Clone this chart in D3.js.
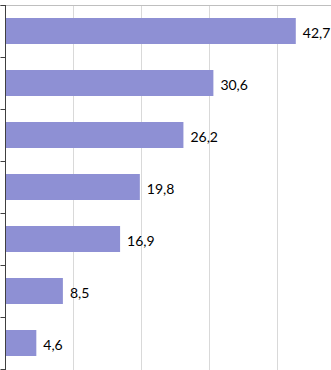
<!DOCTYPE html>
<html>
<head>
<meta charset="utf-8">
<script src="https://cdn.jsdelivr.net/npm/d3@7"></script>
<style>
  html, body { margin: 0; padding: 0; background: #fff; }
  svg { display: block; }
</style>
</head>
<body>
<div id="chart"></div>
<script>
// data, top to bottom
const categories = ['A', 'B', 'C', 'D', 'E', 'F', 'G'];
const values = [42.7, 30.6, 26.2, 19.8, 16.9, 8.5, 4.6];
const gridTicks = [10, 20, 30, 40, 50];

const width = 331, height = 370;
const marginLeft = 5, marginTop = 5;

const svg = d3.select('#chart')
  .append('svg')
  .attr('width', width)
  .attr('height', height);

// x: 10 units ~ 68px
const x = d3.scaleLinear()
  .domain([0, 50])
  .range([marginLeft, marginLeft + 340.5]);

// y: one band per category, 52px each
const y = d3.scaleBand()
  .domain(categories)
  .range([marginTop, marginTop + 52 * categories.length])
  .padding(0);

// vertical gridlines
svg.append('g')
  .selectAll('line')
  .data(gridTicks)
  .join('line')
  .attr('x1', d => Math.round(x(d)) + 0.5)
  .attr('x2', d => Math.round(x(d)) + 0.5)
  .attr('y1', marginTop)
  .attr('y2', height)
  .attr('stroke', '#d9d9d9')
  .attr('stroke-width', 1);

// top border of plot area
svg.append('line')
  .attr('x1', 0)
  .attr('x2', width)
  .attr('y1', marginTop + 0.5)
  .attr('y2', marginTop + 0.5)
  .attr('stroke', '#bfbfbf');

// bars
svg.append('g')
  .selectAll('rect')
  .data(values)
  .join('rect')
  .attr('x', x(0))
  .attr('y', (d, i) => y(categories[i]) + y.bandwidth() * 0.25)
  .attr('width', d => x(d) - x(0))
  .attr('height', y.bandwidth() * 0.5)
  .attr('fill', '#8e90d4');

// value labels
svg.append('g')
  .selectAll('text')
  .data(values)
  .join('text')
  .attr('x', d => x(d) + 7)
  .attr('y', (d, i) => y(categories[i]) + y.bandwidth() / 2 + 7)
  .attr('font-family', 'Lato, "Open Sans", sans-serif')
  .attr('font-size', 14)
  .attr('fill', '#000')
  .text(d => d3.format('.1f')(d).replace('.', ','));

// category axis: line plus outside ticks at band edges
const axisG = svg.append('g')
  .attr('transform', `translate(${marginLeft + 0.5},0)`);
axisG.append('line')
  .attr('x1', 0)
  .attr('x2', 0)
  .attr('y1', marginTop)
  .attr('y2', height)
  .attr('stroke', '#404040');
axisG.selectAll('line.cat-tick')
  .data(d3.range(categories.length + 1))
  .join('line')
  .attr('class', 'cat-tick')
  .attr('x1', -5)
  .attr('x2', 0)
  .attr('y1', i => marginTop + y.step() * i + 0.5)
  .attr('y2', i => marginTop + y.step() * i + 0.5)
  .attr('stroke', '#404040');
</script>
</body>
</html>
